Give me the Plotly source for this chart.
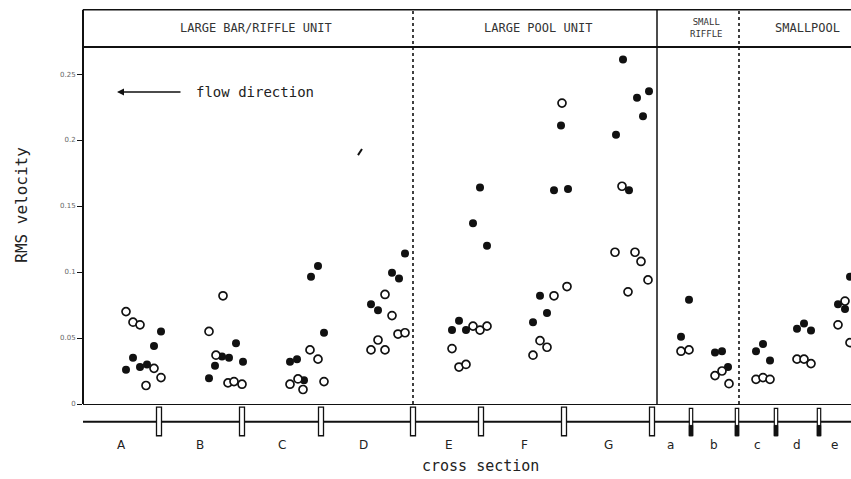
import plotly.graph_objects as go

# ---- data -------------------------------------------------------------
# position along the reach (arbitrary distance units) and RMS velocity
filled_x = [4.3, 5.0, 5.7, 6.4, 7.1, 7.8,
            12.6, 13.2, 13.9, 14.6, 15.3, 16.0,
            20.7, 21.4, 22.1, 22.8, 23.5, 24.1,
            28.8, 29.5, 30.9, 31.6, 32.2,
            36.9, 37.6, 38.3, 39.0, 39.7, 40.4,
            45.0, 45.7, 46.4, 47.1, 47.8, 48.5,
            53.3, 54.0, 54.6, 55.4, 56.0, 56.6,
            59.8, 60.6,
            63.2, 63.9, 64.5,
            67.3, 68.0, 68.7,
            71.4, 72.1, 72.8,
            75.5, 76.2, 76.7]
filled_y = [0.026, 0.035, 0.028, 0.030, 0.044, 0.055,
            0.0195, 0.029, 0.036, 0.035, 0.046, 0.032,
            0.032, 0.034, 0.018, 0.0965, 0.1045, 0.054,
            0.0755, 0.071, 0.0995, 0.095, 0.114,
            0.056, 0.063, 0.056, 0.137, 0.164, 0.120,
            0.062, 0.082, 0.069, 0.162, 0.211, 0.163,
            0.204, 0.261, 0.162, 0.232, 0.218, 0.237,
            0.051, 0.079,
            0.039, 0.040, 0.028,
            0.040, 0.0455, 0.033,
            0.057, 0.061, 0.0556,
            0.0755, 0.072, 0.0965]

open_x = [4.3, 5.0, 5.7, 6.3, 7.1, 7.8,
          12.6, 13.3, 14.0, 14.5, 15.1, 15.9,
          20.7, 21.5, 22.0, 22.7, 23.5, 24.1,
          28.8, 29.5, 30.2, 30.2, 30.9, 31.5, 32.2,
          36.9, 37.6, 38.3, 39.0, 39.7, 40.4,
          45.0, 45.7, 46.4, 47.1, 47.9, 48.4,
          53.2, 53.9, 54.5, 55.2, 55.8, 56.5,
          59.8, 60.6,
          63.2, 63.9, 64.6,
          67.3, 68.0, 68.7,
          71.4, 72.1, 72.8,
          75.5, 76.2, 76.7]
open_y = [0.070, 0.062, 0.060, 0.014, 0.027, 0.020,
          0.055, 0.037, 0.082, 0.016, 0.017, 0.015,
          0.015, 0.019, 0.011, 0.041, 0.034, 0.017,
          0.041, 0.0485, 0.041, 0.083, 0.067, 0.053, 0.054,
          0.042, 0.028, 0.030, 0.059, 0.056, 0.059,
          0.037, 0.048, 0.043, 0.082, 0.228, 0.089,
          0.115, 0.165, 0.085, 0.115, 0.108, 0.094,
          0.040, 0.041,
          0.0215, 0.025, 0.0154,
          0.0187, 0.020, 0.0187,
          0.034, 0.034, 0.0306,
          0.060, 0.078, 0.0465]

sections = ["A", "B", "C", "D", "E", "F", "G", "a", "b", "c", "d", "e"]
section_centres = [3.8, 11.7, 19.9, 28.0, 36.6, 44.1, 52.5, 58.7, 63.1, 67.4, 71.4, 75.1]
major_bounds = [7.6, 15.9, 23.8, 33.0, 39.8, 48.1, 56.9]
minor_bounds = [60.8, 65.4, 69.3, 73.6]

units = ["LARGE BAR/RIFFLE UNIT", "LARGE POOL UNIT", "SMALL<br>RIFFLE", "SMALLPOOL"]
unit_centres = [17.3, 45.5, 62.3, 72.4]
unit_dividers = [33.0, 57.4, 65.6]
unit_divider_dash = ["dot", "solid", "dot"]

y_ticks = [0, 0.05, 0.1, 0.15, 0.2, 0.25]
y_tick_text = ["0", "0.05", "0.1", "0.15", "0.2", "0.25"]

# ---- figure -----------------------------------------------------------
FONT = "DejaVu Sans"
MONO = "DejaVu Sans Mono"
INK = "#111111"

fig = go.Figure()
fig.add_trace(go.Scatter(
    x=filled_x, y=filled_y, mode="markers",
    marker=dict(symbol="circle", size=8, color=INK, line=dict(width=0)),
    showlegend=False, hoverinfo="skip"))
fig.add_trace(go.Scatter(
    x=open_x, y=open_y, mode="markers",
    marker=dict(symbol="circle", size=8, color="white",
                line=dict(width=1.7, color=INK)),
    showlegend=False, hoverinfo="skip"))

shapes = []
HEAD_TOP = 1.104
# header band
shapes.append(dict(type="line", xref="paper", yref="paper", x0=0, x1=1,
                   y0=HEAD_TOP, y1=HEAD_TOP, line=dict(color=INK, width=1.5)))
shapes.append(dict(type="line", xref="paper", yref="paper", x0=0, x1=1,
                   y0=1.0, y1=1.0, line=dict(color=INK, width=2)))
shapes.append(dict(type="line", xref="paper", yref="paper", x0=0, x1=0,
                   y0=0, y1=HEAD_TOP, line=dict(color=INK, width=2)))
# unit dividers through header and plot
for xv, dash in zip(unit_dividers, unit_divider_dash):
    shapes.append(dict(type="line", xref="x", yref="paper", x0=xv, x1=xv,
                       y0=0, y1=HEAD_TOP,
                       line=dict(color=INK, width=1.5 if dash == "solid" else 1.6,
                                 dash=dash)))
# cross-section band below the axis
BAND_Y = -0.05
shapes.append(dict(type="line", xref="paper", yref="paper", x0=0, x1=1,
                   y0=BAND_Y, y1=BAND_Y, line=dict(color=INK, width=2)))
for xv in major_bounds:
    shapes.append(dict(type="rect", xref="x", yref="paper",
                       x0=xv - 0.25, x1=xv + 0.25, y0=-0.089, y1=-0.009,
                       fillcolor="white", line=dict(color=INK, width=1.3)))
for xv in minor_bounds:
    shapes.append(dict(type="rect", xref="x", yref="paper",
                       x0=xv - 0.17, x1=xv + 0.17, y0=-0.089, y1=-0.012,
                       fillcolor="white", line=dict(color=INK, width=1.2)))
    shapes.append(dict(type="rect", xref="x", yref="paper",
                       x0=xv - 0.17, x1=xv + 0.17, y0=-0.089, y1=-0.06,
                       fillcolor=INK, line=dict(color=INK, width=1)))
# small stray stroke in the upper plot
shapes.append(dict(type="line", xref="x", yref="y", x0=27.5, x1=27.9,
                   y0=0.1886, y1=0.1932, line=dict(color=INK, width=2)))

annotations = []
for lab, xc in zip(sections, section_centres):
    annotations.append(dict(x=xc, y=-0.115, xref="x", yref="paper", text=lab,
                            showarrow=False, xanchor="center", yanchor="middle",
                            font=dict(family=FONT, size=12, color="#222")))
for lab, xc in zip(units, unit_centres):
    small = "<br>" in lab
    annotations.append(dict(x=xc, y=1.053, xref="x", yref="paper", text=lab,
                            showarrow=False, xanchor="center", yanchor="middle",
                            font=dict(family=MONO, size=9 if small else 12,
                                      color="#333")))
# flow direction arrow
annotations.append(dict(x=3.4, y=0.2364, xref="x", yref="y",
                        ax=9.9, ay=0.2364, axref="x", ayref="y", text="",
                        showarrow=True, arrowhead=2, arrowsize=1, arrowwidth=1.4,
                        arrowcolor=INK))
annotations.append(dict(x=11.1, y=0.2364, xref="x", yref="y",
                        text="flow direction", showarrow=False,
                        xanchor="left", yanchor="middle",
                        font=dict(family=MONO, size=14, color="#222")))
# axis titles
annotations.append(dict(x=-0.08, y=0.557, xref="paper", yref="paper",
                        text="RMS velocity", textangle=-90, showarrow=False,
                        xanchor="center", yanchor="middle",
                        font=dict(family=MONO, size=16, color="#222")))
annotations.append(dict(x=0.517, y=-0.174, xref="paper", yref="paper",
                        text="cross section", showarrow=False,
                        xanchor="center", yanchor="middle",
                        font=dict(family=MONO, size=15, color="#222")))

fig.update_layout(
    width=851, height=479,
    margin=dict(l=83, r=0, t=47, b=75),
    paper_bgcolor="white", plot_bgcolor="white",
    shapes=shapes, annotations=annotations,
    xaxis=dict(range=[0, 76.8], showgrid=False, zeroline=False,
               showticklabels=False, ticks="", showline=True,
               linecolor=INK, linewidth=1, fixedrange=True),
    yaxis=dict(range=[0, 0.2705], showgrid=False, zeroline=False,
               tickvals=y_ticks, ticktext=y_tick_text, ticks="outside",
               ticklen=5, tickwidth=1, tickcolor=INK,
               tickfont=dict(family=FONT, size=7, color="#666"),
               showline=False, fixedrange=True),
)

fig.write_html("out.html")
